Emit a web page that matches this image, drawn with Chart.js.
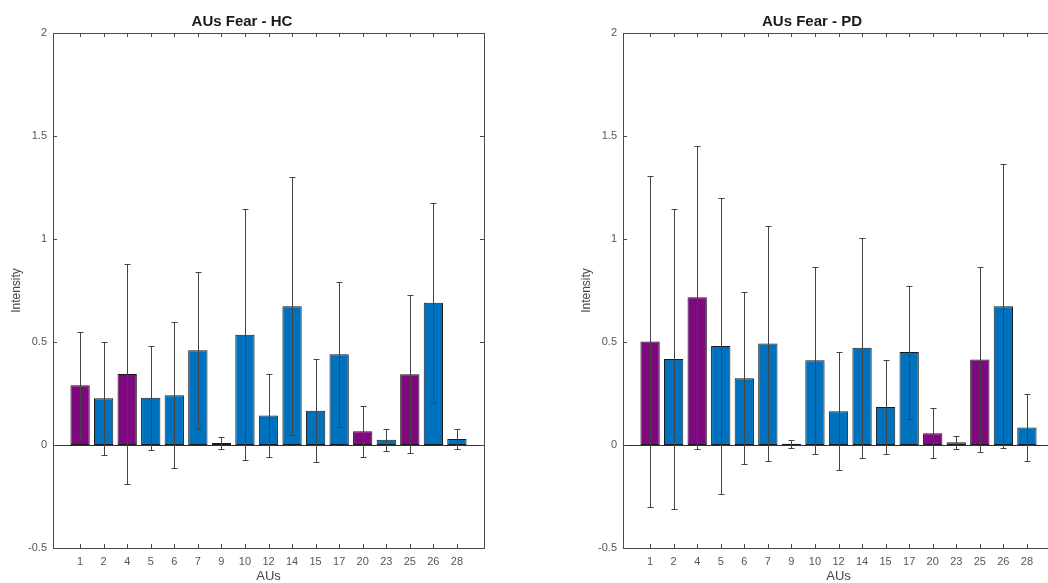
<!DOCTYPE html>
<html>
<head>
<meta charset="utf-8">
<script src="https://cdn.jsdelivr.net/npm/chart.js@4"></script>
<style>
  html, body { margin: 0; padding: 0; background: #fff; overflow: hidden; }
  body { width: 1048px; height: 583px; position: relative; }
  .panel { position: absolute; top: 0; width: 524px; height: 583px; }
</style>
</head>
<body>
<div class="panel" style="left:0"><canvas id="hc" width="524" height="583"></canvas></div>
<div class="panel" style="left:570px"><canvas id="pd" width="524" height="583"></canvas></div>
<script>
// action units on the x axis
const aus = ['1', '2', '4', '5', '6', '7', '9', '10', '12', '14', '15', '17', '20', '23', '25', '26', '28'];
// AUs drawn in purple
const purpleAus = ['1', '4', '20', '25'];

// healthy controls: mean intensity and error (std)
const hcMean = [0.29, 0.227, 0.345, 0.229, 0.242, 0.46, 0.01, 0.535, 0.143, 0.674, 0.166, 0.441, 0.067, 0.025, 0.343, 0.69, 0.029];
const hcErr  = [0.26, 0.275, 0.534, 0.253, 0.355, 0.38, 0.027, 0.609, 0.203, 0.627, 0.25, 0.352, 0.124, 0.053, 0.383, 0.486, 0.05];

// parkinson patients
const pdMean = [0.502, 0.417, 0.717, 0.48, 0.324, 0.493, 0.006, 0.411, 0.164, 0.472, 0.185, 0.451, 0.057, 0.013, 0.415, 0.674, 0.085];
const pdErr  = [0.802, 0.729, 0.734, 0.72, 0.417, 0.569, 0.02, 0.455, 0.286, 0.533, 0.23, 0.323, 0.121, 0.032, 0.451, 0.69, 0.164];

const yTicks = [-0.5, 0, 0.5, 1, 1.5, 2];

const PURPLE = '#7e087e';
const BLUE = '#0072bd';
const AXIS = '#4a4a4a';
const FONT = "'Liberation Sans', Arial, sans-serif";

// box around the axes, inward ticks, zero baseline and error bars
const matlabAxes = {
  id: 'matlabAxes',
  afterDatasetsDraw(chart) {
    const {ctx, chartArea: a, scales: {x, y}} = chart;
    const errs = chart.options.plugins.matlabAxes.err;
    const pts = chart.data.datasets[0].data;
    ctx.save();
    // baseline
    ctx.strokeStyle = '#333';
    ctx.lineWidth = 1;
    const y0 = Math.round(y.getPixelForValue(0)) + 0.5;
    ctx.beginPath();
    ctx.moveTo(a.left, y0);
    ctx.lineTo(a.right, y0);
    ctx.stroke();
    // error bars
    ctx.strokeStyle = '#444';
    pts.forEach((p, i) => {
      const px = Math.round(x.getPixelForValue(p.x)) + 0.5;
      const top = Math.round(y.getPixelForValue(p.y + errs[i])) + 0.5;
      const bot = Math.round(y.getPixelForValue(p.y - errs[i])) + 0.5;
      ctx.beginPath();
      ctx.moveTo(px, top); ctx.lineTo(px, bot);
      ctx.moveTo(px - 3, top); ctx.lineTo(px + 3, top);
      ctx.moveTo(px - 3, bot); ctx.lineTo(px + 3, bot);
      ctx.stroke();
    });
    // frame
    ctx.strokeStyle = AXIS;
    ctx.strokeRect(Math.round(a.left) + 0.5, Math.round(a.top) + 0.5,
                   Math.round(a.right - a.left), Math.round(a.bottom - a.top));
    // inward ticks
    const t = 4;
    ctx.beginPath();
    pts.forEach(p => {
      const px = Math.round(x.getPixelForValue(p.x)) + 0.5;
      ctx.moveTo(px, a.bottom); ctx.lineTo(px, a.bottom - t);
      ctx.moveTo(px, a.top); ctx.lineTo(px, a.top + t);
    });
    yTicks.forEach(v => {
      const py = Math.round(y.getPixelForValue(v)) + 0.5;
      ctx.moveTo(a.left, py); ctx.lineTo(a.left + t, py);
      ctx.moveTo(a.right, py); ctx.lineTo(a.right - t, py);
    });
    ctx.stroke();
    ctx.restore();
  }
};

function makeChart(id, title, mean, err) {
  return new Chart(document.getElementById(id), {
    type: 'bar',
    data: {
      datasets: [{
        data: mean.map((v, i) => ({ x: i, y: v })),
        backgroundColor: aus.map(a => purpleAus.includes(a) ? PURPLE : BLUE),
        borderColor: '#1a1a1a',
        borderWidth: 1,
        borderSkipped: false,
        barPercentage: 0.82,
        categoryPercentage: 1
      }]
    },
    options: {
      responsive: false,
      animation: false,
      layout: { padding: { left: 0, right: 40, top: 0, bottom: 0 } },
      plugins: {
        legend: { display: false },
        tooltip: { enabled: false },
        title: {
          display: true,
          text: title,
          color: '#1a1a1a',
          font: { family: FONT, size: 15, weight: 'bold', lineHeight: 1.2 },
          padding: { top: 13, bottom: 2 }
        },
        matlabAxes: { err: err }
      },
      scales: {
        x: {
          type: 'linear',
          offset: false,
          min: -1.15,
          max: aus.length - 1 + 1.15,
          afterBuildTicks(s) { s.ticks = aus.map((a, i) => ({ value: i })); },
          grid: { display: false, drawTicks: false },
          border: { display: false },
          ticks: { color: '#555', font: { family: FONT, size: 11 }, padding: 7, maxRotation: 0, autoSkip: false,
                   callback: v => aus[v] },
          title: { display: true, text: 'AUs', color: '#444', font: { family: FONT, size: 13, lineHeight: 1 }, padding: { top: 0, bottom: 0 } },
          afterFit(s) { s.height = 35; }
        },
        y: {
          min: -0.5,
          max: 2,
          afterBuildTicks(s) { s.ticks = yTicks.map(v => ({ value: v })); },
          grid: { display: false, drawTicks: false },
          border: { display: false },
          ticks: { color: '#555', font: { family: FONT, size: 11 }, padding: 6, callback: v => String(+v.toFixed(1)) },
          title: { display: true, text: 'Intensity', color: '#444', font: { family: FONT, size: 12, lineHeight: 1.2 }, padding: { top: 9, bottom: 0 } },
          afterFit(s) { s.width = 53; }
        }
      }
    },
    plugins: [matlabAxes]
  });
}

makeChart('hc', 'AUs Fear - HC', hcMean, hcErr);
makeChart('pd', 'AUs Fear - PD', pdMean, pdErr);
</script>
</body>
</html>
